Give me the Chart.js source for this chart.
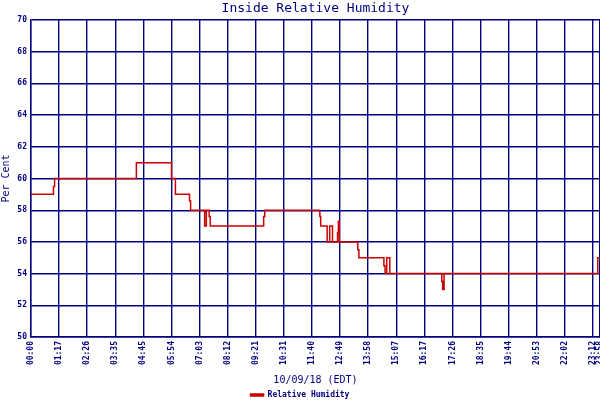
<!DOCTYPE html>
<html>
<head>
<meta charset="utf-8">
<script src="https://cdn.jsdelivr.net/npm/chart.js@4.4.0/dist/chart.umd.min.js"></script>
<style>
  html, body { margin: 0; padding: 0; background: #fff; }
  #wrap { width: 600px; height: 400px; }
</style>
</head>
<body>
<div id="wrap"><canvas id="humChart" width="600" height="400"></canvas></div>
<script>
// Inside relative humidity, 10/09/18
// x is measured in grid divisions (one division per time label)
const tickLabels = ['00:00', '01:17', '02:26', '03:35', '04:45', '05:54', '07:03', '08:12',
    '09:21', '10:31', '11:40', '12:49', '13:58', '15:07', '16:17', '17:26', '18:35',
    '19:44', '20:53', '22:02', '23:12', '23:58'];
const tickPos = [0, 1, 2, 3, 4, 5, 6, 7, 8, 9, 10, 11, 12, 13, 14, 15, 16, 17, 18, 19, 20, 20.25];

// each value holds from its x until the next x
const stepX = [0, 0.80, 0.84, 3.75, 5.00, 5.14, 5.64, 5.68, 6.18, 6.24, 6.34, 6.38,
    8.28, 8.32, 10.28, 10.31, 10.54, 10.63, 10.73, 10.91, 10.94, 10.97, 11.63, 11.67,
    12.56, 12.60, 12.66, 12.77, 14.62, 14.65, 14.70, 20.17, 20.25];
const humidity = [59, 59.5, 60, 61, 60, 59, 58.6, 58, 57, 58, 57.6, 57,
    57.6, 58, 57.6, 57, 56, 57, 56, 56.6, 57.3, 56, 55.5, 55,
    54.5, 54, 55, 54, 53.5, 53, 54, 55, 55];

const navy = '#000080';
const red = '#cc0000';
const mono = "'DejaVu Sans Mono', 'Liberation Mono', monospace";

function createHumidityChart() {
    const ctx = document.getElementById('humChart').getContext('2d');

    new Chart(ctx, {
        type: 'line',
        data: {
            datasets: [{
                label: 'Relative Humidity',
                data: stepX.map((x, i) => ({ x: x, y: humidity[i] })),
                borderColor: red,
                backgroundColor: red,
                borderWidth: 1.5,
                stepped: 'before',
                pointRadius: 0,
                fill: false
            }]
        },
        options: {
            responsive: false,
            animation: false,
            layout: {
                padding: { left: 0, right: 0, top: 0, bottom: -9 }
            },
            plugins: {
                title: {
                    display: true,
                    text: 'Inside Relative Humidity',
                    color: navy,
                    fullSize: false,
                    font: { family: mono, size: 13, weight: 'normal' },
                    padding: { top: 1, bottom: 3.4 }
                },
                legend: {
                    position: 'bottom',
                    labels: {
                        color: navy,
                        boxWidth: 13,
                        boxHeight: 2,
                        padding: 2,
                        font: { family: mono, size: 8, weight: 'bold' }
                    }
                },
                tooltip: { enabled: false }
            },
            scales: {
                x: {
                    type: 'linear',
                    min: 0,
                    max: 20.25,
                    afterBuildTicks: function(scale) {
                        scale.ticks = tickPos.map(v => ({ value: v }));
                    },
                    afterFit: function(scale) {
                        scale.height = 52;
                        scale.paddingLeft = 0;
                        scale.paddingRight = 0;
                    },
                    ticks: {
                        color: navy,
                        autoSkip: false,
                        minRotation: 90,
                        maxRotation: 90,
                        padding: 4,
                        font: { family: mono, size: 8, weight: 'bold' },
                        callback: function(value, index) {
                            return tickLabels[index];
                        }
                    },
                    grid: { color: navy, lineWidth: 1.4, drawTicks: false },
                    border: { color: navy, width: 1.4 },
                    title: {
                        display: true,
                        text: '10/09/18 (EDT)',
                        color: navy,
                        font: { family: mono, size: 10 },
                        padding: { top: 0, bottom: 3 }
                    }
                },
                y: {
                    min: 50,
                    max: 70,
                    afterFit: function(scale) {
                        scale.width = 31;
                        scale.paddingTop = 0;
                        scale.paddingBottom = 0;
                    },
                    ticks: {
                        stepSize: 2,
                        color: navy,
                        padding: 4,
                        font: { family: mono, size: 8, weight: 'bold' }
                    },
                    grid: { color: navy, lineWidth: 1.4, drawTicks: false },
                    border: { color: navy, width: 1.4 },
                    title: {
                        display: true,
                        text: 'Per Cent',
                        color: navy,
                        font: { family: mono, size: 10 },
                        padding: 0
                    }
                }
            }
        }
    });
}

createHumidityChart();
</script>
</body>
</html>
